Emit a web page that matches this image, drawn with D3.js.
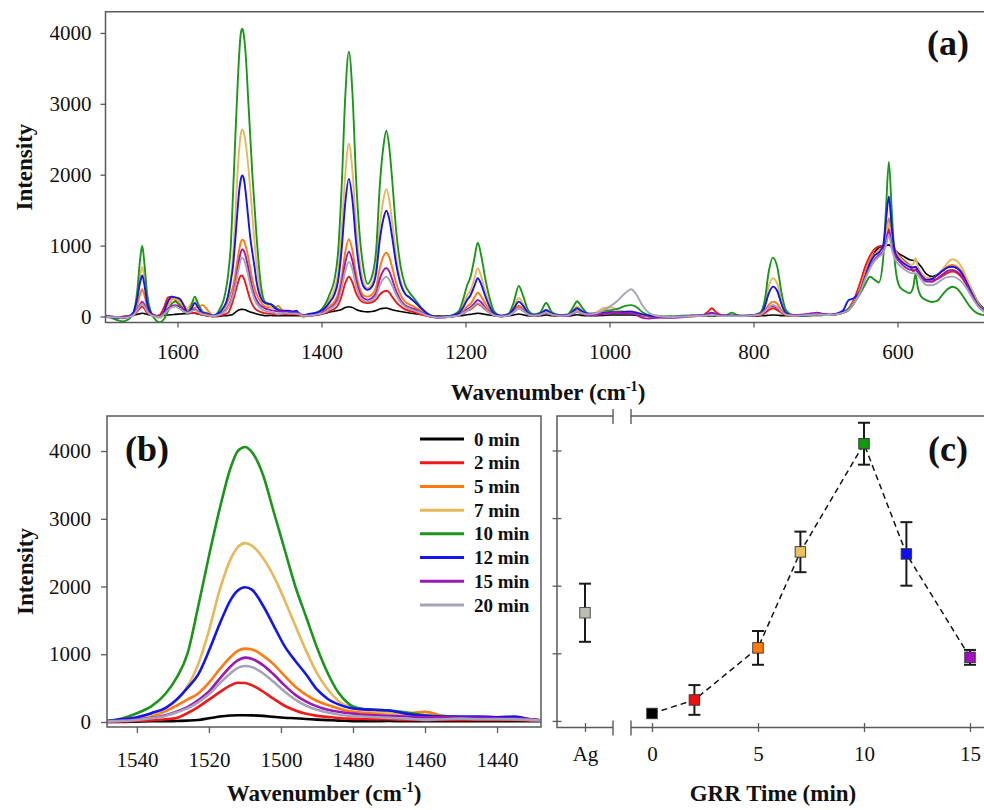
<!DOCTYPE html>
<html>
<head>
<meta charset="utf-8">
<script src="https://cdn.jsdelivr.net/npm/d3@7/dist/d3.min.js"></script>
<style>
  html, body { margin: 0; padding: 0; background: #fff; }
  svg { display: block; font-family: "Liberation Serif", "Times New Roman", serif; }
</style>
</head>
<body>
<svg id="fig" width="984" height="810"></svg>
<script>
// ---------------------------------------------------------------------------
// SERS spectra recorded after different GRR times (shared wavenumber grid, cm-1)
// ---------------------------------------------------------------------------
const wavenumbers = [
  1700, 1692, 1684, 1676, 1668, 1661, 1656, 1652, 1649, 1646, 1642, 1637, 1631, 1625, 1619, 1613, 1608, 1603, 1597, 1591, 1586, 1581, 1576, 1571, 1565, 1559, 1555,
  1550, 1545, 1540, 1536, 1532, 1529, 1526, 1523, 1520, 1517, 1514, 1512, 1510, 1508, 1505, 1502, 1499, 1496, 1493, 1490, 1487, 1484, 1481, 1478, 1474, 1470, 1465, 1460, 1455, 1450, 1445, 1440, 1435, 1430, 1425,
  1420, 1405, 1395, 1388, 1382, 1377, 1372, 1367, 1362, 1357, 1352, 1347, 1342, 1336, 1330, 1324, 1319, 1314, 1310, 1306, 1302, 1296, 1290, 1284, 1278, 1270, 1262, 1254, 1246, 1238,
  1228, 1218, 1209, 1203, 1198, 1193, 1188, 1183, 1178, 1173, 1167, 1160, 1150, 1140, 1133, 1126, 1120, 1113, 1105, 1096, 1088, 1080, 1070, 1058, 1050, 1045, 1039, 1030, 1020, 1008, 998, 988, 978, 970, 962, 954, 945, 935, 925,
  915, 900, 885, 870, 864, 858, 852, 843, 835, 830, 825, 815, 800, 790, 784, 779, 773, 767, 761, 755, 745, 730, 718, 712, 706, 695, 685, 676, 668, 660, 652, 645, 638, 632, 626, 620, 616, 612, 608, 603, 597, 590, 583, 578, 575, 572, 567, 560, 552, 545, 538, 531, 524, 517, 510, 503, 496, 488, 480, 470
];

const intensity0min = [
  0, -10, -10, 0, 10, 20, 30, 40, 45, 40, 30, 20, 10, 10, 15, 20, 25, 30, 35, 40, 40, 45, 45, 35, 20, 10, 5,
  0, 0, 5, 10, 10, 15, 20, 30, 55, 80, 95, 100, 100, 98, 90, 75, 62, 55, 45, 35, 28, 20, 15, 10, 12, 15, 10, 10, 10, 10, 10, 10, 10, 10, 10,
  10, 25, 45, 65, 75, 85, 100, 125, 138, 125, 100, 80, 70, 65, 70, 85, 105, 115, 120, 110, 95, 80, 70, 60, 50, 40, 30, 20, 10, 5,
  5, 5, 10, 15, 25, 30, 38, 45, 40, 30, 20, 10, 5, 10, 20, 35, 25, 10, 5, 10, 20, 10, 5, 5, 15, 25, 15, 10, 10, 15, 20, 20, 20, 20, 15, 10, 5, 0, 0,
  0, 0, 5, 5, 5, 10, 5, 5, 5, 5, 5, 5, 5, 10, 12, 18, 20, 18, 12, 10, 10, 10, 15, 15, 15, 20, 30, 50, 90, 200, 380, 600, 780, 900, 970, 990, 1000, 1010, 980, 930, 880, 840, 800, 790, 785, 760, 700, 600, 565, 590, 640, 690, 704, 680, 620, 500, 360, 200, 110, 50
];

const intensity2min = [
  0, -10, -10, -10, 0, 20, 70, 120, 140, 110, 50, 20, 10, 20, 120, 270, 280, 230, 170, 100, 60, 50, 50, 40, 20, 10, 5,
  0, 5, 15, 25, 40, 60, 130, 220, 330, 440, 540, 580, 575, 540, 450, 340, 240, 170, 120, 90, 75, 60, 50, 45, 40, 40, 30, 30, 30, 30, 30, 30, 30, 20, 10,
  10, 20, 50, 80, 110, 160, 290, 470, 560, 480, 330, 240, 200, 190, 200, 240, 310, 350, 363, 340, 280, 200, 140, 100, 80, 60, 30, 10, -5, -10,
  -10, 0, 15, 45, 80, 100, 140, 176, 150, 100, 55, 15, 0, 20, 80, 150, 100, 35, 10, 25, 50, 25, 10, 10, 45, 68, 45, 20, 20, 40, 50, 55, 60, 68, 50, 20, 0, -10, -10,
  -10, 0, 0, 20, 60, 115, 60, 15, 5, 5, 5, 5, 10, 20, 50, 90, 115, 90, 50, 20, 10, 10, 20, 25, 20, 20, 35, 60, 110, 250, 470, 700, 860, 950, 990, 1000, 1100, 1245, 1080, 930, 850, 780, 720, 640, 657, 630, 600, 530, 516, 530, 570, 610, 633, 610, 540, 430, 300, 160, 80, 30
];

const intensity5min = [
  10, 0, -10, -10, 0, 40, 160, 310, 384, 300, 130, 40, 10, 0, 50, 180, 250, 255, 220, 150, 90, 100, 120, 140, 160, 100, 50,
  10, 25, 50, 90, 160, 240, 330, 420, 580, 780, 960, 1050, 1083, 1070, 980, 850, 680, 520, 400, 310, 250, 200, 160, 140, 130, 130, 130, 150, 90, 70, 60, 50, 50, 40, -10,
  20, 40, 90, 150, 210, 320, 560, 910, 1090, 930, 610, 400, 300, 280, 310, 420, 680, 850, 900, 840, 700, 460, 300, 210, 170, 130, 80, 30, 0, -10,
  0, 10, 30, 80, 140, 180, 260, 337, 280, 190, 100, 30, 5, 20, 70, 140, 100, 40, 10, 30, 60, 30, 10, 10, 60, 90, 60, 30, 30, 60, 70, 60, 50, 50, 40, 20, 0, -10, -10,
  -10, 0, 5, 10, 15, 25, 15, 5, 5, 5, 5, 5, 15, 30, 90, 160, 210, 180, 90, 30, 10, 10, 20, 30, 25, 20, 30, 50, 100, 220, 400, 620, 800, 880, 930, 980, 1150, 1387, 1100, 920, 840, 760, 710, 690, 690, 660, 600, 540, 540, 580, 640, 700, 727, 700, 620, 480, 330, 170, 80, 30
];

const intensity7min = [
  0, -10, -20, -30, -10, 50, 250, 560, 700, 540, 220, 60, 0, -20, 30, 150, 230, 250, 200, 150, 120, 180, 230, 170, 80, 50, 30,
  10, 30, 60, 110, 200, 320, 520, 850, 1350, 1950, 2400, 2580, 2640, 2600, 2420, 2150, 1800, 1420, 1050, 720, 480, 310, 220, 180, 160, 130, 120, 100, 70, 60, 50, 50, 40, 30, 0,
  20, 50, 140, 250, 380, 620, 1200, 2000, 2436, 2050, 1300, 780, 500, 400, 450, 700, 1280, 1650, 1797, 1650, 1350, 830, 500, 330, 270, 200, 110, 40, 0, -5,
  0, 15, 60, 170, 290, 370, 520, 680, 560, 370, 190, 50, 10, 30, 130, 260, 180, 60, 20, 40, 80, 40, 20, 20, 90, 140, 90, 40, 50, 120, 130, 90, 70, 70, 60, 30, 10, 0, 0,
  -10, 0, 5, 10, 15, 25, 15, 5, 5, 5, 5, 5, 15, 50, 200, 420, 540, 460, 220, 60, 15, 10, 20, 30, 25, 20, 30, 50, 90, 200, 380, 580, 760, 860, 920, 980, 1120, 1316, 1080, 920, 830, 760, 720, 740, 822, 720, 620, 550, 540, 580, 660, 750, 808, 780, 680, 520, 360, 190, 90, 30
];

const intensity10min = [
  0, -20, -50, -70, -40, 60, 350, 800, 1000, 750, 300, 60, -40, -85, -40, 80, 180, 210, 150, 70, 60, 150, 280, 170, 60, 40, 25,
  10, 40, 130, 230, 420, 650, 1000, 1700, 2450, 3150, 3750, 4000, 4060, 3980, 3650, 3100, 2550, 2000, 1550, 1100, 720, 430, 260, 200, 180, 170, 140, 100, 80, 70, 70, 60, 50, 30, 20,
  20, 60, 170, 330, 520, 900, 1830, 3100, 3735, 3150, 1950, 1150, 700, 460, 560, 950, 1850, 2400, 2620, 2400, 1950, 1180, 700, 450, 340, 240, 130, 45, 0, -10,
  0, 20, 80, 250, 430, 560, 800, 1040, 850, 560, 280, 70, 10, 40, 200, 430, 290, 90, 30, 60, 190, 60, 20, 30, 140, 215, 140, 40, 30, 80, 90, 110, 150, 160, 130, 60, 20, 10, 0,
  0, 10, 15, 10, 20, 30, 20, 10, 30, 54, 30, 10, 20, 60, 250, 620, 831, 700, 330, 90, 20, 10, 20, 30, 25, 20, 30, 60, 110, 200, 320, 450, 560, 520, 480, 800, 1500, 2180, 1500, 700, 420, 360, 330, 420, 600, 420, 280, 230, 205, 220, 300, 380, 420, 390, 300, 190, 100, 40, 20, 10
];

const intensity12min = [
  0, -10, -20, -20, 0, 60, 250, 480, 580, 450, 180, 50, 10, 0, 60, 220, 280, 270, 250, 150, 50, 100, 190, 120, 50, 40, 25,
  10, 35, 70, 130, 210, 330, 500, 700, 1050, 1450, 1800, 1940, 1990, 1950, 1720, 1420, 1120, 900, 700, 480, 340, 260, 210, 190, 180, 170, 120, 90, 80, 80, 80, 70, 80, 30, 20,
  30, 60, 120, 210, 310, 500, 950, 1600, 1942, 1640, 1050, 640, 430, 375, 420, 620, 1080, 1380, 1492, 1380, 1130, 720, 450, 320, 270, 200, 120, 50, 5, -10,
  0, 15, 50, 130, 230, 300, 420, 540, 450, 300, 150, 40, 10, 30, 110, 210, 150, 50, 20, 40, 92, 40, 20, 20, 80, 115, 80, 40, 40, 50, 60, 60, 65, 68, 50, 30, 10, 0, -10,
  -10, 0, 10, 10, 30, 54, 30, 10, 10, 15, 10, 5, 15, 40, 150, 320, 421, 360, 170, 50, 15, 10, 30, 54, 40, 25, 40, 80, 230, 260, 360, 560, 760, 860, 900, 1000, 1350, 1692, 1250, 900, 800, 740, 700, 690, 704, 660, 580, 516, 530, 580, 640, 690, 704, 680, 600, 460, 310, 160, 80, 30
];

const intensity15min = [
  10, 0, -10, -10, 0, 30, 100, 170, 210, 170, 80, 30, 10, 0, 40, 110, 150, 160, 130, 80, 60, 80, 100, 70, 40, 30, 15,
  5, 15, 35, 60, 100, 150, 220, 320, 450, 640, 820, 910, 950, 930, 840, 700, 540, 400, 300, 230, 180, 150, 130, 110, 100, 90, 80, 70, 70, 60, 60, 55, 50, 40, 10,
  10, 30, 70, 120, 170, 260, 470, 760, 913, 780, 520, 340, 260, 235, 260, 340, 530, 650, 683, 640, 530, 350, 230, 160, 130, 100, 60, 20, -10, -20,
  -10, 0, 20, 60, 100, 130, 180, 233, 200, 130, 70, 20, 0, 15, 60, 115, 80, 30, 10, 25, 55, 25, 10, 10, 45, 65, 45, 20, 20, 40, 50, 50, 45, 45, 20, -20, -30, -20, -10,
  -20, -10, 10, 20, 30, 45, 30, 15, 10, 10, 10, 10, 20, 40, 90, 130, 148, 120, 70, 30, 20, 30, 45, 50, 40, 25, 30, 50, 90, 190, 350, 540, 700, 800, 860, 920, 1050, 1222, 1000, 850, 770, 700, 660, 650, 657, 630, 560, 492, 490, 530, 590, 640, 657, 630, 560, 430, 290, 150, 70, 30
];

const intensity20min = [
  0, -10, -10, -20, -10, 20, 90, 150, 175, 140, 70, 20, 0, -10, 30, 90, 130, 140, 110, 70, 50, 70, 90, 60, 30, 20, 10,
  5, 15, 30, 55, 90, 140, 200, 290, 410, 570, 720, 800, 827, 810, 720, 590, 450, 330, 240, 180, 140, 110, 90, 80, 70, 60, 50, 30, 40, 50, 40, 40, 40, 30, 10,
  10, 30, 60, 110, 150, 220, 400, 640, 770, 660, 440, 290, 230, 210, 230, 290, 440, 530, 560, 520, 440, 300, 200, 140, 110, 80, 50, 15, -5, -15,
  -10, 0, 15, 50, 80, 110, 150, 186, 160, 110, 60, 15, 0, 15, 60, 115, 80, 30, 10, 25, 55, 25, 10, 15, 50, 70, 50, 30, 40, 90, 150, 230, 330, 384, 300, 150, 50, 10, 0,
  -10, 0, 5, 10, 15, 25, 15, 5, 5, 5, 5, 5, 15, 30, 80, 130, 162, 130, 70, 25, 10, 15, 25, 30, 25, 20, 30, 50, 90, 190, 340, 520, 680, 780, 840, 900, 1000, 1151, 950, 800, 720, 660, 620, 610, 610, 590, 520, 445, 440, 470, 520, 555, 562, 540, 480, 380, 260, 140, 70, 30
];

const timeLabels = ["0 min", "2 min", "5 min", "7 min", "10 min", "12 min", "15 min", "20 min"];

// Peak intensity versus GRR time (mean with error bar)
const grrTimes  = [0, 2, 5, 7, 10, 12, 15];
const grrMeans  = [110, 310, 1080, 2500, 4100, 2470, 940];
const grrErrors = [25, 220, 250, 300, 310, 470, 110];
const agLabel = "Ag";
const agMean = 1600;
const agError = 430;

// Tick values
const wavenumberTicksA = [1600, 1400, 1200, 1000, 800, 600];
const wavenumberTicksB = [1540, 1520, 1500, 1480, 1460, 1440];
const intensityTicks = [0, 1000, 2000, 3000, 4000];
const timeTicks = [0, 5, 10, 15];

// ---------------------------------------------------------------------------
// Styling
// ---------------------------------------------------------------------------
const lineColors = ["#000000", "#f01818", "#ff7a10", "#e6b85a", "#1b951b", "#1414f0", "#9a1ab6", "#a6a2b8"];
const markerColors = ["#000000", "#ee1111", "#ff7a10", "#e8c060", "#109a10", "#1010ee", "#a010c0"];
const agColor = "#bcbdb0";
const frameColor = "#5a5a5a";
const tickFont = 21;

const svg = d3.select("#fig");

const spectra = [intensity0min, intensity2min, intensity5min, intensity7min,
                 intensity10min, intensity12min, intensity15min, intensity20min]
  .map((vals, i) => ({
    label: timeLabels[i],
    color: lineColors[i],
    points: vals.map((v, j) => [wavenumbers[j], v])
  }));

function styleAxis(g, size) {
  g.select(".domain").remove();
  g.selectAll(".tick line").attr("stroke", frameColor).attr("stroke-width", 1.3);
  g.selectAll(".tick text")
    .attr("fill", "#111")
    .style("font-size", size + "px")
    .style("font-family", '"Liberation Serif", "Times New Roman", serif');
}

function wavenumberTitle(x, y) {
  const t = svg.append("text")
    .attr("x", x).attr("y", y)
    .attr("text-anchor", "middle")
    .style("font-size", "23px").style("font-weight", "bold").attr("fill", "#111");
  t.append("tspan").text("Wavenumber (cm");
  t.append("tspan").text("-1").attr("dy", -9).style("font-size", "14px");
  t.append("tspan").text(")").attr("dy", 9);
}

function intensityTitle(x, y) {
  svg.append("text")
    .attr("transform", `translate(${x},${y}) rotate(-90)`)
    .attr("text-anchor", "middle")
    .attr("dominant-baseline", "central")
    .style("font-size", "23px").style("font-weight", "bold").attr("fill", "#111")
    .text("Intensity");
}

function panelLetter(x, y, s) {
  svg.append("text").attr("x", x).attr("y", y)
    .style("font-size", "36px").style("font-weight", "bold").attr("fill", "#111")
    .text(s);
}

// ---------------------------------------------------------------------------
// Panel (a): full spectra
// ---------------------------------------------------------------------------
const aLeft = 105.5, aRight = 990, aTop = 11.7, aBottom = 322.5;
const xA = d3.scaleLinear().domain([1700, 471.5]).range([aLeft, aRight]);
const yA = d3.scaleLinear().domain([-85, 4300]).range([aBottom, aTop]);

svg.append("clipPath").attr("id", "clipA")
  .append("rect").attr("x", aLeft).attr("y", aTop).attr("width", aRight - aLeft).attr("height", aBottom - aTop);

const lineA = d3.line().x(d => xA(d[0])).y(d => yA(d[1])).curve(d3.curveMonotoneX);
svg.append("g").attr("clip-path", "url(#clipA)")
  .selectAll("path").data(spectra).join("path")
  .attr("d", d => lineA(d.points))
  .attr("fill", "none")
  .attr("stroke", d => d.color)
  .attr("stroke-width", (d, i) => i === 0 ? 1.6 : 1.9)
  .attr("stroke-linejoin", "round");

svg.append("path")
  .attr("d", `M${aRight},${aTop}H${aLeft}V${aBottom}H${aRight}`)
  .attr("fill", "none").attr("stroke", frameColor).attr("stroke-width", 1.5);

svg.append("g").attr("transform", `translate(0,${aBottom})`)
  .call(d3.axisBottom(xA).tickValues(wavenumberTicksA).tickSize(5).tickPadding(17).tickFormat(d3.format("d")))
  .call(g => styleAxis(g, tickFont));
svg.append("g").attr("transform", `translate(${aLeft},0)`)
  .call(d3.axisLeft(yA).tickValues(intensityTicks).tickSize(5).tickPadding(9).tickFormat(d3.format("d")))
  .call(g => styleAxis(g, tickFont));

intensityTitle(24, (aTop + aBottom) / 2);
wavenumberTitle(548, 400);
panelLetter(927, 55, "(a)");

// ---------------------------------------------------------------------------
// Panel (b): close-up of the 1510 cm-1 band
// ---------------------------------------------------------------------------
const bLeft = 107, bRight = 541, bTop = 416, bBottom = 727;
const xB = d3.scaleLinear().domain([1548.3, 1427.8]).range([bLeft, bRight]);
const yB = d3.scaleLinear().domain([-74, 4517]).range([bBottom, bTop]);

svg.append("clipPath").attr("id", "clipB")
  .append("rect").attr("x", bLeft).attr("y", bTop).attr("width", bRight - bLeft).attr("height", bBottom - bTop);

const lineB = d3.line().x(d => xB(d[0])).y(d => yB(d[1])).curve(d3.curveMonotoneX);
svg.append("g").attr("clip-path", "url(#clipB)")
  .selectAll("path").data(spectra).join("path")
  .attr("d", d => lineB(d.points.filter(p => p[0] <= 1560 && p[0] >= 1415)))
  .attr("fill", "none")
  .attr("stroke", d => d.color)
  .attr("stroke-width", 2.6)
  .attr("stroke-linejoin", "round");

svg.append("rect").attr("x", bLeft).attr("y", bTop)
  .attr("width", bRight - bLeft).attr("height", bBottom - bTop)
  .attr("fill", "none").attr("stroke", frameColor).attr("stroke-width", 1.5);

svg.append("g").attr("transform", `translate(0,${bBottom})`)
  .call(d3.axisBottom(xB).tickValues(wavenumberTicksB).tickSize(6).tickPadding(19).tickFormat(d3.format("d")))
  .call(g => styleAxis(g, tickFont));
svg.append("g").attr("transform", `translate(${bLeft},0)`)
  .call(d3.axisLeft(yB).tickValues(intensityTicks).tickSize(6).tickPadding(10).tickFormat(d3.format("d")))
  .call(g => styleAxis(g, tickFont));

intensityTitle(25, (bTop + bBottom) / 2);
wavenumberTitle((bLeft + bRight) / 2, 801);
panelLetter(125, 461, "(b)");

// legend
const legendY = d3.scalePoint().domain(timeLabels).range([439, 605]);
const legend = svg.append("g").selectAll("g").data(spectra).join("g")
  .attr("transform", d => `translate(0,${legendY(d.label)})`);
legend.append("line").attr("x1", 420).attr("x2", 464)
  .attr("stroke", d => d.color).attr("stroke-width", 3);
legend.append("text").attr("x", 474).attr("dominant-baseline", "central")
  .style("font-size", "19px").style("font-weight", "bold").attr("fill", "#111")
  .text(d => d.label);

// ---------------------------------------------------------------------------
// Panel (c): band intensity versus GRR time
// ---------------------------------------------------------------------------
const cLeft = 557, cRight = 995, cTop = 416, cBottom = 727.5;
const breakL = 613, breakR = 631;
const xAg = d3.scalePoint().domain([agLabel]).range([cLeft, breakL]).padding(0.5);
const xT = d3.scaleLinear().domain([0, 15]).range([652, 970]);
const yC = d3.scaleLinear().domain([-90, 4510]).range([727, 416]);

// frame with axis break
svg.append("path")
  .attr("d", `M${breakL},${cTop}H${cLeft}V${cBottom}H${breakL}M${breakR},${cTop}H${cRight}M${breakR},${cBottom}H${cRight}`)
  .attr("fill", "none").attr("stroke", frameColor).attr("stroke-width", 1.5);
svg.append("g").selectAll("line")
  .data([[breakL, cTop], [breakR, cTop], [breakL, cBottom], [breakR, cBottom]]).join("line")
  .attr("x1", d => d[0]).attr("x2", d => d[0])
  .attr("y1", d => d[1] - 7).attr("y2", d => d[1] + 8)
  .attr("stroke", frameColor).attr("stroke-width", 1.4);

// y ticks (crossing the left axis, unlabeled)
svg.append("g").attr("transform", `translate(${cLeft + 4.5},0)`)
  .call(d3.axisLeft(yC).tickValues(intensityTicks).tickSize(9).tickFormat(""))
  .call(g => styleAxis(g, tickFont));

// x ticks
svg.append("g").attr("transform", `translate(0,${cBottom - 4.5})`)
  .call(d3.axisBottom(xT).tickValues(timeTicks).tickSize(9).tickPadding(14).tickFormat(d3.format("d")))
  .call(g => styleAxis(g, tickFont));
svg.append("g").attr("transform", `translate(0,${cBottom - 4.5})`)
  .call(d3.axisBottom(xAg).tickSize(9).tickPadding(14))
  .call(g => styleAxis(g, tickFont));

svg.append("text").attr("x", 773).attr("y", 801).attr("text-anchor", "middle")
  .style("font-size", "23px").style("font-weight", "bold").attr("fill", "#111")
  .text("GRR Time (min)");
panelLetter(928, 461, "(c)");

const grr = grrTimes.map((t, i) => ({ t, mean: grrMeans[i], err: grrErrors[i], color: markerColors[i] }));

// dashed trend line
svg.append("path")
  .attr("d", d3.line().x(d => xT(d.t)).y(d => yC(d.mean))(grr))
  .attr("fill", "none").attr("stroke", "#111").attr("stroke-width", 1.5)
  .attr("stroke-dasharray", "6,4");

function errorBar(g, x, mean, err) {
  const top = yC(mean + err), bot = yC(mean - err);
  g.append("line").attr("x1", x).attr("x2", x).attr("y1", top).attr("y2", bot);
  g.append("line").attr("x1", x - 6).attr("x2", x + 6).attr("y1", top).attr("y2", top);
  g.append("line").attr("x1", x - 6).attr("x2", x + 6).attr("y1", bot).attr("y2", bot);
}

const bars = svg.append("g").attr("stroke", "#1a1a1a").attr("stroke-width", 2);
errorBar(bars, xAg(agLabel), agMean, agError);
grr.forEach(d => { if (d.err > 40) errorBar(bars, xT(d.t), d.mean, d.err); });

const m = 10.5;
svg.append("rect")
  .attr("x", xAg(agLabel) - m / 2).attr("y", yC(agMean) - m / 2)
  .attr("width", m).attr("height", m)
  .attr("fill", agColor).attr("stroke", "#444").attr("stroke-width", 0.9);
svg.append("g").selectAll("rect").data(grr).join("rect")
  .attr("x", d => xT(d.t) - m / 2).attr("y", d => yC(d.mean) - m / 2)
  .attr("width", m).attr("height", m)
  .attr("fill", d => d.color).attr("stroke", "#333").attr("stroke-width", 0.9);
</script>
</body>
</html>
